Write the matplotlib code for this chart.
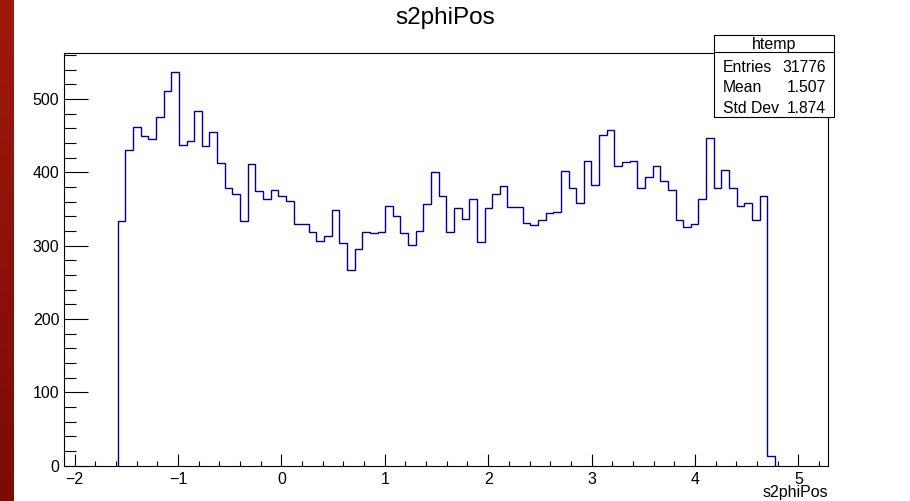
import numpy as np
import matplotlib
matplotlib.use("Agg")
import matplotlib.pyplot as plt
from matplotlib.patches import Rectangle
from matplotlib.colors import LinearSegmentedColormap
from matplotlib.ticker import MultipleLocator

plt.rcParams["font.family"] = ["Liberation Sans", "DejaVu Sans"]

# histogram binning (ROOT htemp, 100 bins over the axis range)
x_lo, x_hi, n_bins = -2.10, 5.29, 100
first_bin = 7

# bin contents starting at first_bin
counts = [334, 430, 462, 450, 446, 476, 511, 537, 437, 442,
          483, 436, 455, 413, 378, 370, 333, 411, 375, 363,
          376, 368, 361, 329, 329, 318, 306, 313, 348, 303,
          267, 296, 318, 317, 318, 354, 340, 317, 301, 320,
          357, 400, 368, 318, 351, 336, 363, 305, 351, 370,
          381, 353, 353, 331, 328, 335, 344, 346, 402, 379,
          358, 415, 383, 451, 457, 408, 414, 416, 379, 393,
          408, 388, 376, 335, 326, 329, 363, 447, 379, 403,
          379, 354, 358, 335, 367, 13]

stat_names = ["Entries", "Mean", "Std Dev"]
stat_values = ["31776", "1.507", "1.874"]

edges_all = np.linspace(x_lo, x_hi, n_bins + 1)
edges = edges_all[first_bin:first_bin + len(counts) + 1]

W, H = 910, 501
fig = plt.figure(figsize=(W / 100, H / 100), dpi=100)

# dark red strip on the left edge
strip = fig.add_axes([0, 0, 14 / W, 1])
grad = np.linspace(0, 1, 256).reshape(-1, 1)
cmap = LinearSegmentedColormap.from_list("strip", ["#a0180c", "#7c0b04"])
strip.imshow(grad, aspect="auto", cmap=cmap, extent=[0, 1, 0, 1])
strip.set_axis_off()

ax = fig.add_axes([64.3 / W, 35.4 / H, (828.3 - 64.3) / W, (465.6 - 52.7) / H])
ax.stairs(counts, edges, color="#000099", lw=1.0, baseline=0)

ax.set_xlim(x_lo, x_hi)
ax.set_ylim(0, 563)
ax.xaxis.set_major_locator(MultipleLocator(1))
ax.xaxis.set_minor_locator(MultipleLocator(0.2))
ax.yaxis.set_major_locator(MultipleLocator(100))
ax.yaxis.set_minor_locator(MultipleLocator(20))

ax.tick_params(axis="both", which="both", direction="in", top=False, right=False,
               width=0.8, labelsize=11.5)
ax.tick_params(axis="y", which="major", length=17, pad=3.6)
ax.tick_params(axis="y", which="minor", length=8.6)
ax.tick_params(axis="x", which="major", length=8.8, pad=4.5)
ax.tick_params(axis="x", which="minor", length=3.8)
for sp in ax.spines.values():
    sp.set_linewidth(0.8)
    sp.set_color("black")

# axis title sits under the right end of the x axis
fig.text(828 / W, 1 - 497 / H, "s2phiPos", fontsize=11.5, ha="right", va="baseline")

fig.text(445 / W, 1 - 24 / H, "s2phiPos", fontsize=17.5, ha="center", va="baseline")

# stats box
bx0, bx1, by0, by1, bsep = 714, 834, 35, 117, 52
box = Rectangle((bx0 / W, 1 - by1 / H), (bx1 - bx0) / W, (by1 - by0) / H,
                transform=fig.transFigure, facecolor="white", edgecolor="black",
                lw=0.8, zorder=10)
fig.add_artist(box)
fig.add_artist(plt.Line2D([bx0 / W, bx1 / W], [1 - bsep / H, 1 - bsep / H],
                          transform=fig.transFigure, color="black", lw=0.8, zorder=11))
fig.text((bx0 + bx1) / 2 / W, 1 - 49 / H, "htemp", fontsize=11.5, ha="center",
         va="baseline", zorder=12)
for i, (name, val) in enumerate(zip(stat_names, stat_values)):
    yb = 1 - (71.5 + 20.8 * i) / H
    fig.text(723 / W, yb, name, fontsize=11.3, ha="left", va="baseline", zorder=12)
    fig.text(826 / W, yb, val, fontsize=11.3, ha="right", va="baseline", zorder=12)

fig.savefig("out.png", dpi=100)
